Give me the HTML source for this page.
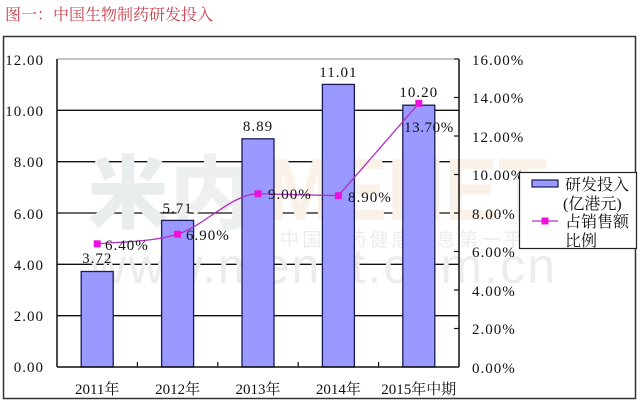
<!DOCTYPE html>
<html><head><meta charset="utf-8"><style>
html,body{margin:0;padding:0;background:#fff;}
svg{display:block;}
text{font-family:"Liberation Serif","Noto Serif CJK SC",serif;}
</style></head><body>
<svg width="640" height="411" viewBox="0 0 640 411" xmlns="http://www.w3.org/2000/svg">
<rect width="640" height="411" fill="#fff"/>
<text x="5" y="20" font-size="16" fill="#c8404e" style="font-family:'Noto Serif CJK SC',serif">图一：中国生物制药研发投入</text>
<rect x="3.5" y="36.5" width="632" height="362" fill="#fff" stroke="#333" stroke-width="1.5"/>

<!-- gridlines -->
<g stroke="#111" stroke-width="1.3">
<line x1="57" y1="110.3" x2="459" y2="110.3"/>
<line x1="57" y1="161.7" x2="459" y2="161.7"/>
<line x1="57" y1="213" x2="459" y2="213"/>
<line x1="57" y1="264.3" x2="459" y2="264.3"/>
<line x1="57" y1="315.7" x2="459" y2="315.7"/>
</g>
<line x1="57" y1="59" x2="459" y2="59" stroke="#888" stroke-width="1"/>

<!-- watermark -->
<g>
<text x="88" y="222" font-size="80" fill="#e9eded" style="font-family:'Noto Sans CJK SC',sans-serif;font-weight:900">米</text>
<text x="170" y="222" font-size="80" fill="#eef0f0" style="font-family:'Noto Sans CJK SC',sans-serif;font-weight:900">内</text>
<text x="267" y="220" font-size="88" fill="#faf1e8" style="font-family:'Liberation Sans',sans-serif;font-weight:bold" textLength="280" lengthAdjust="spacingAndGlyphs">MENET</text>
<text x="280" y="246" font-size="19" fill="#ececec" style="font-family:'Noto Sans CJK SC',sans-serif" textLength="265" lengthAdjust="spacing">中国医药健康信息第一平台</text>
<text x="90" y="283" font-size="50" fill="#ececec" style="font-family:'Liberation Sans',sans-serif" textLength="465" lengthAdjust="spacing">www.menet.com.cn</text>
</g>

<!-- bars -->
<g fill="#9999ff" stroke="#1a1a5a" stroke-width="1.3">
<rect x="81.2" y="271.5" width="32" height="95.5"/>
<rect x="161.6" y="220.4" width="32" height="146.6"/>
<rect x="242" y="138.8" width="32" height="228.2"/>
<rect x="322.4" y="84.4" width="32" height="282.6"/>
<rect x="402.8" y="105.2" width="32" height="261.8"/>
</g>

<!-- axes -->
<g stroke="#111" stroke-width="1.5" fill="none">
<line x1="57" y1="59" x2="57" y2="367"/>
<line x1="57" y1="367" x2="459" y2="367"/>
<line x1="459" y1="59" x2="459" y2="367"/>
</g>
<g stroke="#111" stroke-width="1.2">
<line x1="137.4" y1="362" x2="137.4" y2="367"/>
<line x1="217.8" y1="362" x2="217.8" y2="367"/>
<line x1="298.2" y1="362" x2="298.2" y2="367"/>
<line x1="378.6" y1="362" x2="378.6" y2="367"/>
<line x1="454" y1="59" x2="459" y2="59"/>
<line x1="454" y1="97.5" x2="459" y2="97.5"/>
<line x1="454" y1="136" x2="459" y2="136"/>
<line x1="454" y1="174.5" x2="459" y2="174.5"/>
<line x1="454" y1="213" x2="459" y2="213"/>
<line x1="454" y1="251.5" x2="459" y2="251.5"/>
<line x1="454" y1="290" x2="459" y2="290"/>
<line x1="454" y1="328.5" x2="459" y2="328.5"/>
</g>

<!-- left axis labels -->
<g font-size="15" fill="#111" text-anchor="end" letter-spacing="1">
<text x="44" y="65">12.00</text>
<text x="44" y="116">10.00</text>
<text x="44" y="167">8.00</text>
<text x="44" y="219">6.00</text>
<text x="44" y="270">4.00</text>
<text x="44" y="321">2.00</text>
<text x="44" y="372">0.00</text>
</g>
<!-- right axis labels -->
<g font-size="15" fill="#111" letter-spacing="1">
<text x="472" y="65">16.00%</text>
<text x="472" y="103">14.00%</text>
<text x="472" y="142">12.00%</text>
<text x="472" y="180">10.00%</text>
<text x="472" y="219">8.00%</text>
<text x="472" y="257">6.00%</text>
<text x="472" y="296">4.00%</text>
<text x="472" y="334">2.00%</text>
<text x="472" y="373">0.00%</text>
</g>
<!-- category labels -->
<g font-size="15" fill="#111" text-anchor="middle">
<text x="97.2" y="394">2011年</text>
<text x="177.6" y="394">2012年</text>
<text x="258" y="394">2013年</text>
<text x="338.4" y="394">2014年</text>
<text x="418.8" y="394">2015年中期</text>
</g>

<!-- line -->
<path d="M97.2,243.8 C110.6,242.2 150.8,242.5 177.6,234.2 C204.4,225.9 231,194.5 258,193.75 L338.4,195.7 L418.8,103.3" fill="none" stroke="#b030c0" stroke-width="1.3"/>
<g fill="#ee11dd">
<rect x="93.7" y="240.3" width="7" height="7"/>
<rect x="174.1" y="230.7" width="7" height="7"/>
<rect x="254.5" y="190.25" width="7" height="7"/>
<rect x="334.9" y="192.2" width="7" height="7"/>
<rect x="415.3" y="99.8" width="7" height="7"/>
</g>

<!-- bar labels -->
<g font-size="15" fill="#111" text-anchor="middle" letter-spacing="1">
<text x="97.2" y="263">3.72</text>
<text x="177.6" y="213">5.71</text>
<text x="258" y="131">8.89</text>
<text x="338.4" y="77">11.01</text>
<text x="418.8" y="97">10.20</text>
</g>
<!-- line labels -->
<g font-size="15" fill="#111" letter-spacing="1">
<text x="105" y="250">6.40%</text>
<text x="186" y="240">6.90%</text>
<text x="268" y="199">9.00%</text>
<text x="348" y="202">8.90%</text>
<text x="404" y="132" letter-spacing="0.6">13.70%</text>
</g>

<!-- legend -->
<rect x="519.5" y="172.5" width="117" height="76" fill="#fff" stroke="#222" stroke-width="1.2"/>
<rect x="532" y="180" width="26" height="7" fill="#9999ff" stroke="#1a1a5a" stroke-width="1.2"/>
<line x1="532" y1="221" x2="558" y2="221" stroke="#b030c0" stroke-width="1.3"/>
<rect x="541.5" y="217.5" width="7" height="7" fill="#ee11dd"/>
<g font-size="16" fill="#111" style="font-family:'Noto Serif CJK SC',serif">
<text x="565" y="190">研发投入</text>
<text x="563" y="209">(亿港元)</text>
<text x="565" y="227">占销售额</text>
<text x="565" y="246">比例</text>
</g>
</svg>
</body></html>
